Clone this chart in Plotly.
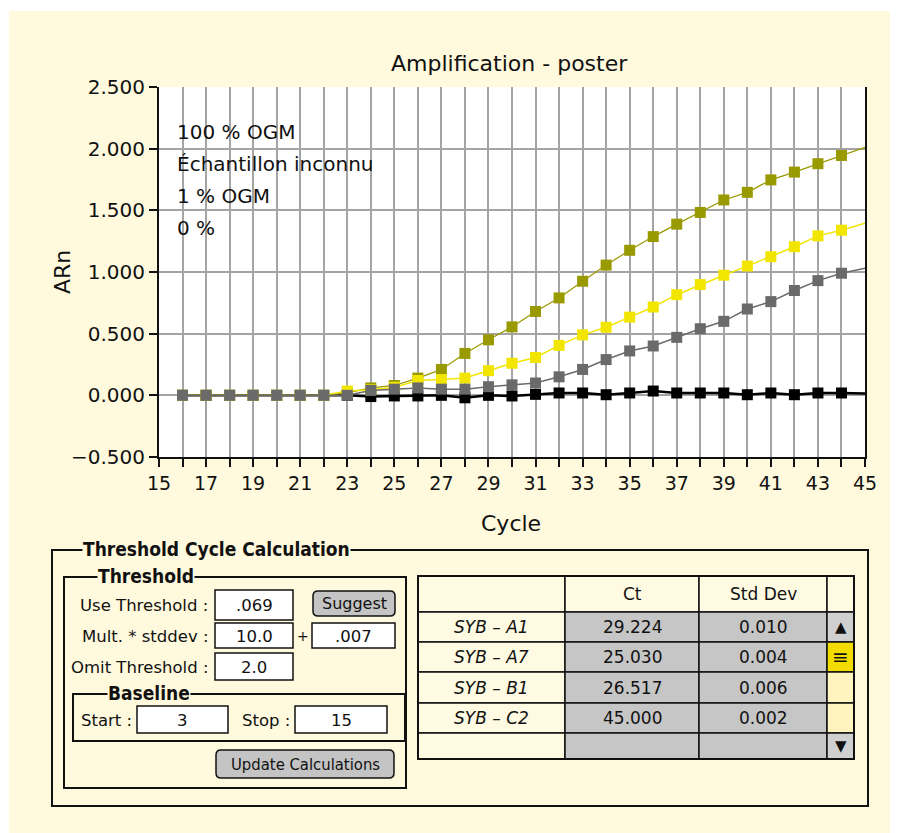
import plotly.graph_objects as go

# ---------------- data ----------------
cycles = list(range(16, 46))
s100 = [0, 0, 0, 0, 0, 0, 0, 0.02, 0.06, 0.08, 0.14, 0.21, 0.34, 0.45, 0.555, 0.68, 0.79, 0.925,
        1.056, 1.176, 1.287, 1.388, 1.483, 1.584, 1.646, 1.747, 1.81, 1.878, 1.945, 2.01]
sunk = [0, 0, 0, 0, 0, 0, 0, 0.035, 0.045, 0.065, 0.12, 0.128, 0.14, 0.2, 0.26, 0.307, 0.405, 0.49,
        0.552, 0.634, 0.716, 0.816, 0.898, 0.974, 1.048, 1.124, 1.205, 1.293, 1.339, 1.396]
s1 = [0, 0, 0, 0, 0, 0, 0, 0.0, 0.04, 0.05, 0.06, 0.05, 0.05, 0.07, 0.085, 0.10, 0.15, 0.21,
      0.29, 0.36, 0.40, 0.47, 0.54, 0.60, 0.70, 0.76, 0.85, 0.93, 0.99, 1.03]
s0 = [0, 0, 0, 0, 0, 0, 0, 0.0, -0.01, -0.005, -0.005, 0.0, -0.02, 0.0, -0.005, 0.008, 0.019, 0.019,
      0.005, 0.019, 0.035, 0.019, 0.019, 0.019, 0.005, 0.019, 0.005, 0.019, 0.019, 0.015]
legend_labels = ["100 % OGM", "Échantillon inconnu", "1 % OGM", "0 %"]
xtick_vals = list(range(15, 46))
ytick_vals = [-0.5, 0.0, 0.5, 1.0, 1.5, 2.0, 2.5]
ytick_text = ["−0.500", "0.000", "0.500", "1.000", "1.500", "2.000", "2.500"]

samples = ["SYB – A1", "SYB – A7", "SYB – B1", "SYB – C2"]
ct_vals = ["29.224", "25.030", "26.517", "45.000"]
std_vals = ["0.010", "0.004", "0.006", "0.002"]
use_threshold = ".069"
mult_stddev = "10.0"
mult_result = ".007"
omit_threshold = "2.0"
baseline_start = "3"
baseline_stop = "15"

# ---------------- geometry helpers (screen pixels) ----------------
SW, SH = 898, 833          # window size
OFF = 8                    # default page body margin
W, H = SW - OFF, SH - OFF  # figure size
L, R, T, B = 159, 865, 87, 457   # plot area in screen pixels
BG = "#FFF9DD"
FONT = "DejaVu Sans"


def X(px):
    return (px - L) / (R - L)


def Y(py):
    return (B - py) / (B - T)


fig = go.Figure()

marker_sizes = [11] * (len(cycles) - 1) + [0]
series = [
    (s0, "#000000", 2.5, "0 %"),
    (s100, "#999900", 1.2, "100 % OGM"),
    (sunk, "#F2E600", 1.5, "Échantillon inconnu"),
    (s1, "#6A6A6A", 1.5, "1 % OGM"),
]
for vals, col, lw, name in series:
    fig.add_trace(go.Scatter(
        x=cycles, y=vals, mode="lines+markers", name=name,
        line=dict(color=col, width=lw),
        marker=dict(symbol="square", size=marker_sizes, color=col, opacity=1, line=dict(width=0)),
        showlegend=False, cliponaxis=True,
    ))

shapes = []
annotations = []

# white strips around the yellow panel
shapes.append(dict(type="rect", xref="paper", yref="paper", x0=X(-20), x1=X(SW + 20), y0=Y(-20), y1=Y(11),
                   fillcolor="white", line=dict(width=0), layer="above"))
shapes.append(dict(type="rect", xref="paper", yref="paper", x0=X(-20), x1=X(9), y0=Y(-20), y1=Y(SH + 20),
                   fillcolor="white", line=dict(width=0), layer="above"))


def box(x0, y0, x1, y1, fill=None, lw=1.5, col="#111111"):
    shapes.append(dict(type="rect", xref="paper", yref="paper",
                       x0=X(x0), x1=X(x1), y0=Y(y1), y1=Y(y0),
                       fillcolor=fill if fill else "rgba(0,0,0,0)",
                       line=dict(color=col, width=lw), layer="above"))


def rbox(x0, y0, x1, y1, r=5, fill="#C4C4C4"):
    pts = [("M", x0 + r, y0), ("L", x1 - r, y0), ("Q", x1, y0, x1, y0 + r), ("L", x1, y1 - r),
           ("Q", x1, y1, x1 - r, y1), ("L", x0 + r, y1), ("Q", x0, y1, x0, y1 - r),
           ("L", x0, y0 + r), ("Q", x0, y0, x0 + r, y0)]
    p = ""
    for seg in pts:
        cmd = seg[0]
        coords = seg[1:]
        s = " ".join(f"{X(coords[i]):.5f},{Y(coords[i + 1]):.5f}" for i in range(0, len(coords), 2))
        p += f"{cmd}{s} "
    p += "Z"
    shapes.append(dict(type="path", xref="paper", yref="paper", path=p, fillcolor=fill,
                       line=dict(color="#111111", width=1.5), layer="above"))


def text(x, y, s, size=15, xanchor="center", bold=False, italic=False, bg=None, color="#111111",
         angle=0, family=FONT):
    if bold:
        s = f"<b>{s}</b>"
    if italic:
        s = f"<i>{s}</i>"
    a = dict(x=X(x), y=Y(y), xref="paper", yref="paper", text=s, showarrow=False,
             xanchor=xanchor, yanchor="middle", font=dict(family=family, size=size, color=color),
             textangle=angle)
    if bg:
        a.update(bgcolor=bg, borderpad=0)
    annotations.append(a)


# chart texts
text(509, 64, "Amplification - poster", size=22)
text(511, 523, "Cycle", size=22)
text(62, 272, "ARn", size=22, angle=-90)
for i, lab in enumerate(legend_labels):
    text(175, 132 + 32 * i, lab, size=20, xanchor="left")

# ---------- Threshold Cycle Calculation panel ----------
TITLE_FONT = "DejaVu Sans Condensed, DejaVu Sans"
box(52, 550, 868, 806, lw=2)
text(82, 549, "Threshold Cycle Calculation", size=19, xanchor="left", bold=True, bg=BG, family=TITLE_FONT)
box(64, 577, 406, 788, lw=2)
text(97, 576, "Threshold", size=19, xanchor="left", bold=True, bg=BG, family=TITLE_FONT)

LS = 16.5
text(210, 605, "Use Threshold :", size=LS, xanchor="right")
box(215, 590, 293, 620, fill="white")
text(254, 605, use_threshold, size=LS)
rbox(313, 591, 395, 616)
text(354, 603.5, "Suggest", size=16)

text(210, 636, "Mult. * stddev :", size=LS, xanchor="right")
box(215, 623, 293, 648, fill="white")
text(254, 636, mult_stddev, size=LS)
text(303, 636, "+", size=14)
box(312, 623, 395, 648, fill="white")
text(353, 636, mult_result, size=LS)

text(210, 667, "Omit Threshold :", size=LS, xanchor="right")
box(215, 653, 293, 680, fill="white")
text(254, 667, omit_threshold, size=LS)

box(73, 694, 405, 741, lw=2)
text(107, 693, "Baseline", size=19, xanchor="left", bold=True, bg=BG, family=TITLE_FONT)
text(134, 720, "Start :", size=LS, xanchor="right")
box(137, 706, 228, 733, fill="white")
text(182, 720, baseline_start, size=LS)
text(292, 720, "Stop :", size=LS, xanchor="right")
box(295, 706, 387, 733, fill="white")
text(341, 720, baseline_stop, size=LS)

rbox(216, 750, 394, 778)
text(305, 764, "Update Calculations", size=16.5, family=TITLE_FONT)

# ---------- results table ----------
col_x = [418, 565, 699, 827, 854]
row_y = [576, 612, 642, 672, 703, 733, 759]
GREY = "#C6C6C6"
n_rows = len(samples)
for r in range(len(row_y) - 1):
    y0, y1 = row_y[r], row_y[r + 1]
    for c in range(len(col_x) - 1):
        x0, x1 = col_x[c], col_x[c + 1]
        fill = "#FFFAE2"
        if r >= 1 and c in (1, 2):
            fill = GREY
        if c == 3:
            if r == 0:
                fill = "#FFFAE2"
            elif r == 1 or r == len(row_y) - 2:
                fill = "#D0D0D0"
            elif r == 2:
                fill = "#F2DC00"
            else:
                fill = "#FFF3BE"
        box(x0, y0, x1, y1, fill=fill, lw=1.5)
box(col_x[0], row_y[0], col_x[-1], row_y[-1], lw=2)

TS = 17
text((col_x[1] + col_x[2]) / 2, 594, "Ct", size=TS)
text((col_x[2] + col_x[3]) / 2, 594, "Std Dev", size=TS)
for i in range(n_rows):
    yc = (row_y[i + 1] + row_y[i + 2]) / 2
    text((col_x[0] + col_x[1]) / 2, yc, samples[i], size=TS, italic=True)
    text((col_x[1] + col_x[2]) / 2, yc, ct_vals[i], size=TS)
    text((col_x[2] + col_x[3]) / 2, yc, std_vals[i], size=TS)
sx = (col_x[3] + col_x[4]) / 2
text(sx, (row_y[1] + row_y[2]) / 2, "▲", size=15)
text(sx, (row_y[2] + row_y[3]) / 2, "≡", size=20)
text(sx, (row_y[5] + row_y[6]) / 2, "▼", size=15)

fig.update_layout(
    width=W, height=H, autosize=False,
    margin=dict(l=L - OFF, r=W - (R - OFF), t=T - OFF, b=H - (B - OFF), pad=0),
    paper_bgcolor=BG, plot_bgcolor="white",
    font=dict(family=FONT, size=18, color="#111111"),
    shapes=shapes, annotations=annotations,
    xaxis=dict(range=[15, 45], tickmode="array", tickvals=xtick_vals,
               ticktext=[str(v) if (v - 15) % 2 == 0 else "" for v in xtick_vals],
               showgrid=True, gridcolor="#A4A4A4", gridwidth=1.5,
               showline=True, linecolor="#111111", linewidth=2,
               ticks="outside", ticklen=8, tickwidth=2, tickcolor="#111111",
               tickfont=dict(size=19), zeroline=False, fixedrange=True),
    yaxis=dict(range=[-0.5, 2.5], tickmode="array", tickvals=ytick_vals, ticktext=ytick_text,
               showgrid=True, gridcolor="#A4A4A4", gridwidth=1.5,
               showline=True, linecolor="#111111", linewidth=2, mirror=True,
               ticks="outside", ticklen=8, tickwidth=2, tickcolor="#111111",
               tickfont=dict(size=20), zeroline=False, fixedrange=True),
)

fig.write_html("out.html")
